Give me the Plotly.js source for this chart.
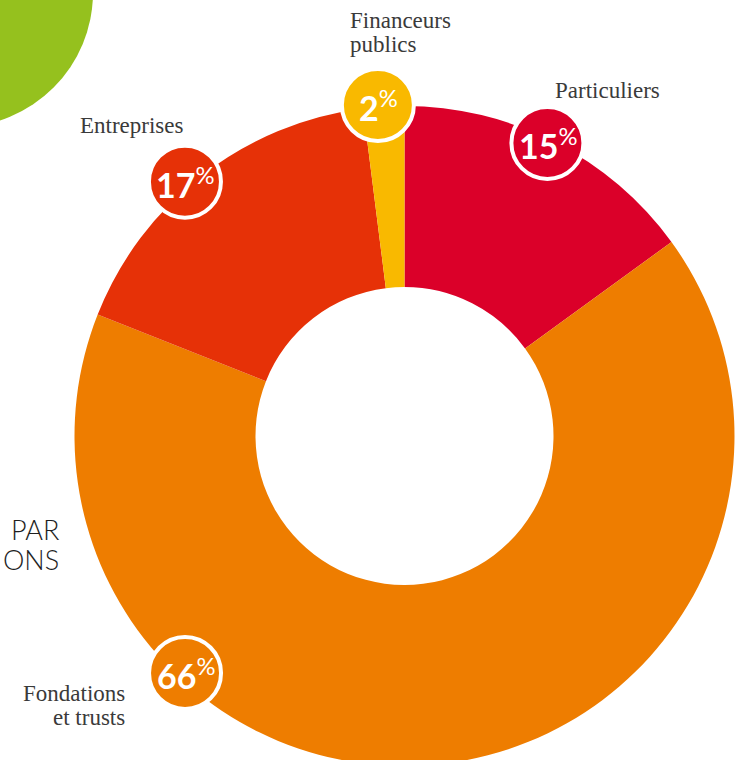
<!DOCTYPE html>
<html>
<head>
<meta charset="utf-8">
<script src="https://cdn.plot.ly/plotly-3.0.1.min.js"></script>
<style>
  html, body { margin: 0; padding: 0; background: #ffffff; }
  #wrap { width: 744px; height: 760px; overflow: hidden; position: relative; }
  #chart { width: 744px; height: 800px; }
</style>
</head>
<body>
<div id="wrap"><div id="chart"></div></div>
<script>
// ---- data ----
var categories = ["Particuliers", "Fondations et trusts", "Entreprises", "Financeurs publics"];
var labelLines = [["Particuliers"], ["Fondations", "et trusts"], ["Entreprises"], ["Financeurs", "publics"]];
var shares = [15, 66, 17, 2];
var colors = ["#DB0029", "#EE7D00", "#E63107", "#F9B900"];

// ---- geometry (pixels) ----
var W = 744, H = 800;
var CX = 404.5, CY = 436, R = 330, HOLE = 149 / 330;
function px(x) { return x / W; }
function py(y) { return 1 - y / H; }

// badge placement: angular offset from slice mid-angle (deg) and radius
var badgeOffset = [-1, 50, -3, -1];
var badgeRadius = [326, 323, 336, 332];
var BADGE_R = 38;

var total = shares.reduce(function (a, b) { return a + b; }, 0);
var cum = 0;
var shapes = [];
var annotations = [];

// decorative green disc at top-left
shapes.push({
  type: "circle", xref: "paper", yref: "paper", layer: "below",
  x0: px(-176), x1: px(93), y0: py(-142), y1: py(127),
  fillcolor: "#95C11E", line: { width: 0 }
});

// text label positions (pixels, first line) — layout only
var labelPos = [
  { x: 607, y: 90, xanchor: "center" },
  { x: 127, y: 693, xanchor: "right" },
  { x: 132, y: 125, xanchor: "center" },
  { x: 348, y: 20, xanchor: "left" }
];
var LINE_GAP = 24;

for (var i = 0; i < shares.length; i++) {
  var start = cum / total * 360;
  cum += shares[i];
  var end = cum / total * 360;
  var mid = (start + end) / 2 + badgeOffset[i];
  var rad = mid * Math.PI / 180;
  var bx = CX + badgeRadius[i] * Math.sin(rad);
  var by = CY - badgeRadius[i] * Math.cos(rad);
  shapes.push({
    type: "circle", xref: "paper", yref: "paper", layer: "above",
    x0: px(bx - BADGE_R + 2), x1: px(bx + BADGE_R - 2),
    y0: py(by + BADGE_R - 2), y1: py(by - BADGE_R + 2),
    fillcolor: colors[i], line: { color: "#ffffff", width: 4 }
  });
  annotations.push({
    xref: "paper", yref: "paper", x: px(bx + 1), y: py(by + 1),
    xanchor: "center", yanchor: "middle", showarrow: false,
    text: "<b>" + shares[i] + "</b><sup>%</sup>",
    font: { family: "Lato, 'Open Sans', sans-serif", size: 34, color: "#ffffff" }
  });
  var lp = labelPos[i];
  for (var k = 0; k < labelLines[i].length; k++) {
    annotations.push({
      xref: "paper", yref: "paper", x: px(lp.x), y: py(lp.y + k * LINE_GAP),
      xanchor: lp.xanchor, yanchor: "middle", showarrow: false,
      text: labelLines[i][k],
      font: { family: "'Liberation Serif', serif", size: 23, color: "#3a3a3a" }
    });
  }
}

// clipped heading fragments on the left
annotations.push({
  xref: "paper", yref: "paper", x: px(61), y: py(529), xanchor: "right", yanchor: "middle",
  showarrow: false, text: "PAR",
  font: { family: "Lato, 'Noto Sans', sans-serif", size: 27, color: "#1e1e1e", weight: 300 }
});
annotations.push({
  xref: "paper", yref: "paper", x: px(61), y: py(559), xanchor: "right", yanchor: "middle",
  showarrow: false, text: "ONS",
  font: { family: "Lato, 'Noto Sans', sans-serif", size: 27, color: "#1e1e1e", weight: 300 }
});

var trace = {
  type: "pie",
  labels: categories,
  values: shares,
  sort: false,
  direction: "clockwise",
  rotation: 0,
  hole: HOLE,
  textinfo: "none",
  hoverinfo: "label+percent",
  marker: { colors: colors, line: { width: 0 } },
  domain: { x: [px(CX - R), px(CX + R)], y: [py(CY + R), py(CY - R)] },
  showlegend: false
};

var layout = {
  width: W, height: H,
  margin: { l: 0, r: 0, t: 0, b: 0 },
  paper_bgcolor: "#ffffff",
  showlegend: false,
  shapes: shapes,
  annotations: annotations
};

Plotly.newPlot("chart", [trace], layout, { displayModeBar: false, staticPlot: true });
</script>
</body>
</html>
